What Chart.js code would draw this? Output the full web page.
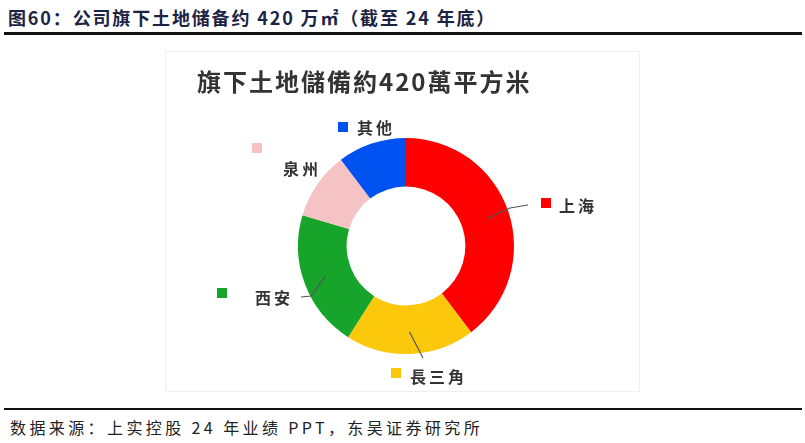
<!DOCTYPE html>
<html>
<head>
<meta charset="utf-8">
<script src="https://cdn.jsdelivr.net/npm/chart.js@4"></script>
<style>
  body { margin: 0; background: #fff; }
  #wrap { position: relative; width: 805px; height: 443px; overflow: hidden; }
  #c { position: absolute; left: 0; top: 0; }
  .head { position: absolute; left: 8px; top: 4px; font: bold 18px "Noto Sans CJK SC"; color: #1b2444; letter-spacing: 1.85px; white-space: nowrap; }
  .rule { position: absolute; left: 4px; width: 798px; background: #111; }
  .foot { position: absolute; left: 10px; top: 415px; font: 16px "Noto Sans CJK SC"; color: #222; letter-spacing: 3.4px; white-space: nowrap; }
  .frame { position: absolute; left: 165px; top: 51px; width: 473px; height: 339px; border: 1px solid #f0f0f0; }
</style>
</head>
<body>
<div id="wrap">
  <div class="frame"></div>
  <div class="head">图60：公司旗下土地储备约 420 万㎡（截至 24 年底）</div>
  <div class="rule" style="top:32px;height:3px"></div>
  <div class="rule" style="top:408px;height:2px"></div>
  <div class="foot">数据来源：上实控股 24 年业绩 PPT，东吴证券研究所</div>
  <canvas id="c" width="805" height="443"></canvas>
</div>
<script>
// Data
const regions = ["上海", "長三角", "西安", "泉州", "其他"];
const shares = [39.7, 19.3, 20.6, 10.1, 10.3];
const colors = ["#ff0000", "#fcc80c", "#16a42a", "#f5c3c3", "#0052f0"];
const chartTitle = "旗下土地儲備約420萬平方米";

// Label placement (marker box, text, leader line points)
const labelPos = [
  { box: [541, 198], text: [559, 206], leader: [[510, 208], [528, 205]] },
  { box: [391, 368], text: [410, 377], leader: [[423, 358]] },
  { box: [217, 288], text: [255, 298], leader: [[311, 296], [301, 297]] },
  { box: [252, 143], text: [283, 169], leader: null },
  { box: [338, 122], text: [357, 128], leader: null }
];

const labelPlugin = {
  id: "labels",
  afterDraw(chart) {
    const ctx = chart.ctx;
    ctx.save();
    // title
    ctx.fillStyle = "#333";
    ctx.font = "bold 24px 'Noto Sans CJK TC'";
    ctx.letterSpacing = "2px";
    ctx.textBaseline = "middle";
    ctx.fillText(chartTitle, 197, 82);

    const arcs = chart.getDatasetMeta(0).data;
    ctx.font = "bold 16px 'Noto Sans CJK TC'";
    ctx.letterSpacing = "3px";
    regions.forEach((name, i) => {
      const p = labelPos[i];
      const a = arcs[i];
      if (p.leader) {
        const mid = (a.startAngle + a.endAngle) / 2;
        const r = a.outerRadius - 22;
        ctx.beginPath();
        ctx.moveTo(a.x + Math.cos(mid) * r, a.y + Math.sin(mid) * r);
        p.leader.forEach(pt => ctx.lineTo(pt[0], pt[1]));
        ctx.strokeStyle = "#555";
        ctx.lineWidth = 1.2;
        ctx.stroke();
      }
      ctx.fillStyle = colors[i];
      ctx.fillRect(p.box[0], p.box[1], 10, 10);
      ctx.fillStyle = "#333";
      ctx.fillText(name, p.text[0], p.text[1]);
    });
    ctx.restore();
  }
};

new Chart(document.getElementById("c"), {
  type: "doughnut",
  data: {
    labels: regions,
    datasets: [{
      data: shares,
      backgroundColor: colors,
      borderWidth: 0,
      hoverOffset: 0
    }]
  },
  options: {
    responsive: false,
    animation: false,
    cutout: "55%",
    layout: { padding: { top: 138, bottom: 89, left: 298, right: 291 } },
    plugins: { legend: { display: false }, tooltip: { enabled: false } }
  },
  plugins: [labelPlugin]
});
</script>
</body>
</html>
